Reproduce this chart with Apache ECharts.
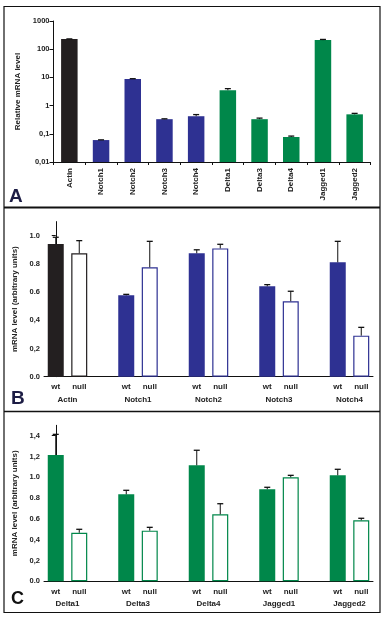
<!DOCTYPE html>
<html>
<head>
<meta charset="utf-8">
<script src="https://cdn.jsdelivr.net/npm/echarts@6/dist/echarts.min.js"></script>
<style>
html,body{margin:0;padding:0;background:#fff;}
#chart{width:386px;height:623px;}
</style>
</head>
<body>
<div id="chart"></div>
<script>
// ---------- Panel A (log scale) ----------
const catsA = ['Actin','Notch1','Notch2','Notch3','Notch4','Delta1','Delta3','Delta4','Jagged1','Jagged2'];
const valsA = [232, 0.06, 8.8, 0.33, 0.42, 3.5, 0.33, 0.077, 210, 0.49];
const errA  = [0, 0.001, 0.2, 0.01, 0.06, 0.5, 0.03, 0.006, 12, 0.04];
const tickValsA = [0.01, 0.1, 1, 10, 100, 1000];
const tickLabelsA = ['0,01', '0,1', '1', '10', '100', '1000'];

// ---------- Panel B ----------
const groupsB = ['Actin','Notch1','Notch2','Notch3','Notch4'];
const wtB      = [0.941, 0.577, 0.875, 0.641, 0.811];
const wtErrB   = [0.048, 0.007, 0.025, 0.012, 0.149];
const nullB    = [0.875, 0.776, 0.910, 0.535, 0.291];
const nullErrB = [0.090, 0.184, 0.029, 0.071, 0.059];
const tickValsB = [0, 0.2, 0.4, 0.6, 0.8, 1.0];
const tickLabelsB = ['0.0', '0,2', '0,4', '0.6', '0.8', '1.0'];

// ---------- Panel C ----------
const groupsC = ['Delta1','Delta3','Delta4','Jagged1','Jagged2'];
const wtC      = [1.214, 0.836, 1.115, 0.885, 1.019];
const wtErrC   = [0.199, 0.039, 0.145, 0.019, 0.058];
const nullC    = [0.467, 0.487, 0.644, 1.000, 0.587];
const nullErrC = [0.033, 0.032, 0.102, 0.019, 0.019];
const tickValsC = [0, 0.2, 0.4, 0.6, 0.8, 1.0, 1.2, 1.4];
const tickLabelsC = ['0.0', '0,2', '0,4', '0.6', '0.8', '1.0', '1,2', '1,4'];

const slotLabels = ['wt', 'null'];

// colours
const BLACK = '#231f20', BLUE = '#2e3192', GREEN = '#00874a';
const FONT = '"Liberation Sans", Arial, Helvetica, sans-serif';
const colorA = catsA.map((c, i) => i === 0 ? BLACK : (i < 5 ? BLUE : GREEN));
const colorB = groupsB.map((g, i) => i === 0 ? BLACK : BLUE);
const colorC = groupsC.map(() => GREEN);

function errItem(params, api) {
  const x = api.value(0), v = api.value(1), e = api.value(2);
  const p0 = api.coord([x, v]);
  const p1 = api.coord([x, v + e]);
  const hw = 3;
  return {
    type: 'group',
    children: [
      { type: 'line', shape: { x1: p0[0], y1: p0[1], x2: p1[0], y2: p1[1] }, style: { stroke: '#111', lineWidth: 1 } },
      { type: 'line', shape: { x1: p1[0] - hw, y1: p1[1], x2: p1[0] + hw, y2: p1[1] }, style: { stroke: '#111', lineWidth: 1.3 } }
    ]
  };
}

// build slot-based data for grouped panels (wt, null, gap)
function buildSlots(groups, wt, wtErr, nul, nulErr, colors) {
  const cats = [], bars = [], errs = [];
  groups.forEach((g, i) => {
    const s = cats.length;
    cats.push(slotLabels[0]);
    cats.push(slotLabels[1]);
    bars.push({ value: wt[i], itemStyle: { color: colors[i], borderColor: colors[i], borderWidth: 0 } });
    bars.push({ value: nul[i], itemStyle: { color: '#ffffff', borderColor: colors[i], borderWidth: 1.2 } });
    errs.push([s, wt[i], wtErr[i]]);
    errs.push([s + 1, nul[i], nulErr[i]]);
    if (i < groups.length - 1) { cats.push(''); bars.push('-'); }
  });
  return { cats, bars, errs };
}
const slB = buildSlots(groupsB, wtB, wtErrB, nullB, nullErrB, colorB);
const slC = buildSlots(groupsC, wtC, wtErrC, nullC, nullErrC, colorC);
const nameValsB = groupsB.map((g, i) => i * 3 + 0.5);
const nameValsC = groupsC.map((g, i) => i * 3 + 0.5);

const labelStyle = { fontFamily: FONT, fontSize: 8, fontWeight: 'bold', color: '#222' };
const tickLabelStyle = { fontFamily: FONT, fontSize: 7.5, fontWeight: 'bold', color: '#222' };
const axisLine = { show: true, lineStyle: { color: '#111', width: 1 } };

function valueY(grid, max, ticks, labels, name, gap) {
  return {
    type: 'value', gridIndex: grid, min: 0, max: max,
    axisLine: axisLine,
    axisTick: { show: true, length: 4, customValues: ticks, lineStyle: { color: '#111' } },
    axisLabel: Object.assign({ customValues: ticks, margin: 4,
      formatter: v => { const k = ticks.findIndex(t => Math.abs(t - v) < 1e-6); return k >= 0 ? labels[k] : ''; } }, tickLabelStyle),
    splitLine: { show: false },
    name: name, nameLocation: 'middle', nameGap: gap, nameRotate: 90,
    nameTextStyle: { fontFamily: FONT, fontSize: 8, fontWeight: 'bold', color: '#222' }
  };
}
function slotX(grid, cats) {
  return {
    type: 'category', gridIndex: grid, data: cats, boundaryGap: true,
    axisLine: axisLine, axisTick: { show: false },
    axisLabel: Object.assign({ interval: 0, margin: 6 }, labelStyle)
  };
}
function nameX(grid, n, vals, groups, margin) {
  return {
    type: 'value', gridIndex: grid, position: 'bottom', min: -0.5, max: n - 0.5,
    axisLine: { show: false }, axisTick: { show: false }, splitLine: { show: false },
    axisLabel: Object.assign({ customValues: vals, margin: margin,
      formatter: v => { const k = vals.findIndex(t => Math.abs(t - v) < 1e-6); return k >= 0 ? groups[k] : ''; } }, labelStyle)
  };
}

const option = {
  animation: false,
  backgroundColor: '#ffffff',
  grid: [
    { left: 53.5, right: 15.5, top: 21, height: 141 },
    { left: 44, right: 13, top: 221.6, height: 155.1 },
    { left: 44, right: 13, top: 425.3, height: 156 }
  ],
  xAxis: [
    {
      type: 'category', gridIndex: 0, data: catsA,
      axisLine: axisLine,
      axisTick: { show: true, length: 3, interval: 0, lineStyle: { color: '#111' } },
      axisLabel: Object.assign({ interval: 0, rotate: 90, margin: 6 }, labelStyle)
    },
    slotX(1, slB.cats),
    nameX(1, slB.cats.length, nameValsB, groupsB, 19),
    slotX(2, slC.cats),
    nameX(2, slC.cats.length, nameValsC, groupsC, 18)
  ],
  yAxis: [
    {
      type: 'log', gridIndex: 0, logBase: 10, min: 0.01, max: 1000, startValue: 0.01,
      axisLine: axisLine,
      axisTick: { show: true, length: 4, customValues: tickValsA, lineStyle: { color: '#111' } },
      axisLabel: Object.assign({ customValues: tickValsA, margin: 4,
        formatter: v => { const k = Math.round(Math.log10(v)) + 2; return tickLabelsA[k] || ''; } }, tickLabelStyle),
      splitLine: { show: false },
      name: 'Relative mRNA level', nameLocation: 'middle', nameGap: 28, nameRotate: 90,
      nameTextStyle: { fontFamily: FONT, fontSize: 8, fontWeight: 'bold', color: '#222' }
    },
    valueY(1, 1.1, tickValsB, tickLabelsB, 'mRNA level (arbitrary units)', 19),
    valueY(2, 1.5, tickValsC, tickLabelsC, 'mRNA level (arbitrary units)', 19)
  ],
  series: [
    {
      type: 'bar', xAxisIndex: 0, yAxisIndex: 0, barWidth: 16.5,
      data: valsA.map((v, i) => ({ value: v, itemStyle: { color: colorA[i] } }))
    },
    {
      type: 'custom', xAxisIndex: 0, yAxisIndex: 0, z: 5, renderItem: errItem,
      data: valsA.map((v, i) => [i, v, errA[i]])
    },
    { type: 'bar', xAxisIndex: 1, yAxisIndex: 1, barWidth: 16, data: slB.bars },
    { type: 'custom', xAxisIndex: 1, yAxisIndex: 1, z: 5, renderItem: errItem, data: slB.errs },
    { type: 'bar', xAxisIndex: 3, yAxisIndex: 2, barWidth: 16, data: slC.bars },
    { type: 'custom', xAxisIndex: 3, yAxisIndex: 2, z: 5, renderItem: errItem, data: slC.errs }
  ],
  graphic: [
    { type: 'rect', shape: { x: 4, y: 6.5, width: 376, height: 606 }, style: { fill: 'none', stroke: '#111', lineWidth: 1.2 }, silent: true },
    { type: 'line', shape: { x1: 4, y1: 207.5, x2: 380, y2: 207.5 }, style: { stroke: '#111', lineWidth: 2 }, silent: true },
    { type: 'line', shape: { x1: 4, y1: 411.5, x2: 380, y2: 411.5 }, style: { stroke: '#111', lineWidth: 1.5 }, silent: true },
    { type: 'text', left: 9, top: 187, style: { text: 'A', font: 'bold 19px ' + FONT, fill: '#1c1c44' } },
    { type: 'text', left: 11, top: 389, style: { text: 'B', font: 'bold 19px ' + FONT, fill: '#1c1c44' } },
    { type: 'text', left: 11, top: 590, style: { text: 'C', font: 'bold 18px ' + FONT, fill: '#111' } }
  ]
};

const chart = echarts.init(document.getElementById('chart'), null, { renderer: 'canvas' });
chart.setOption(option);
</script>
</body>
</html>
